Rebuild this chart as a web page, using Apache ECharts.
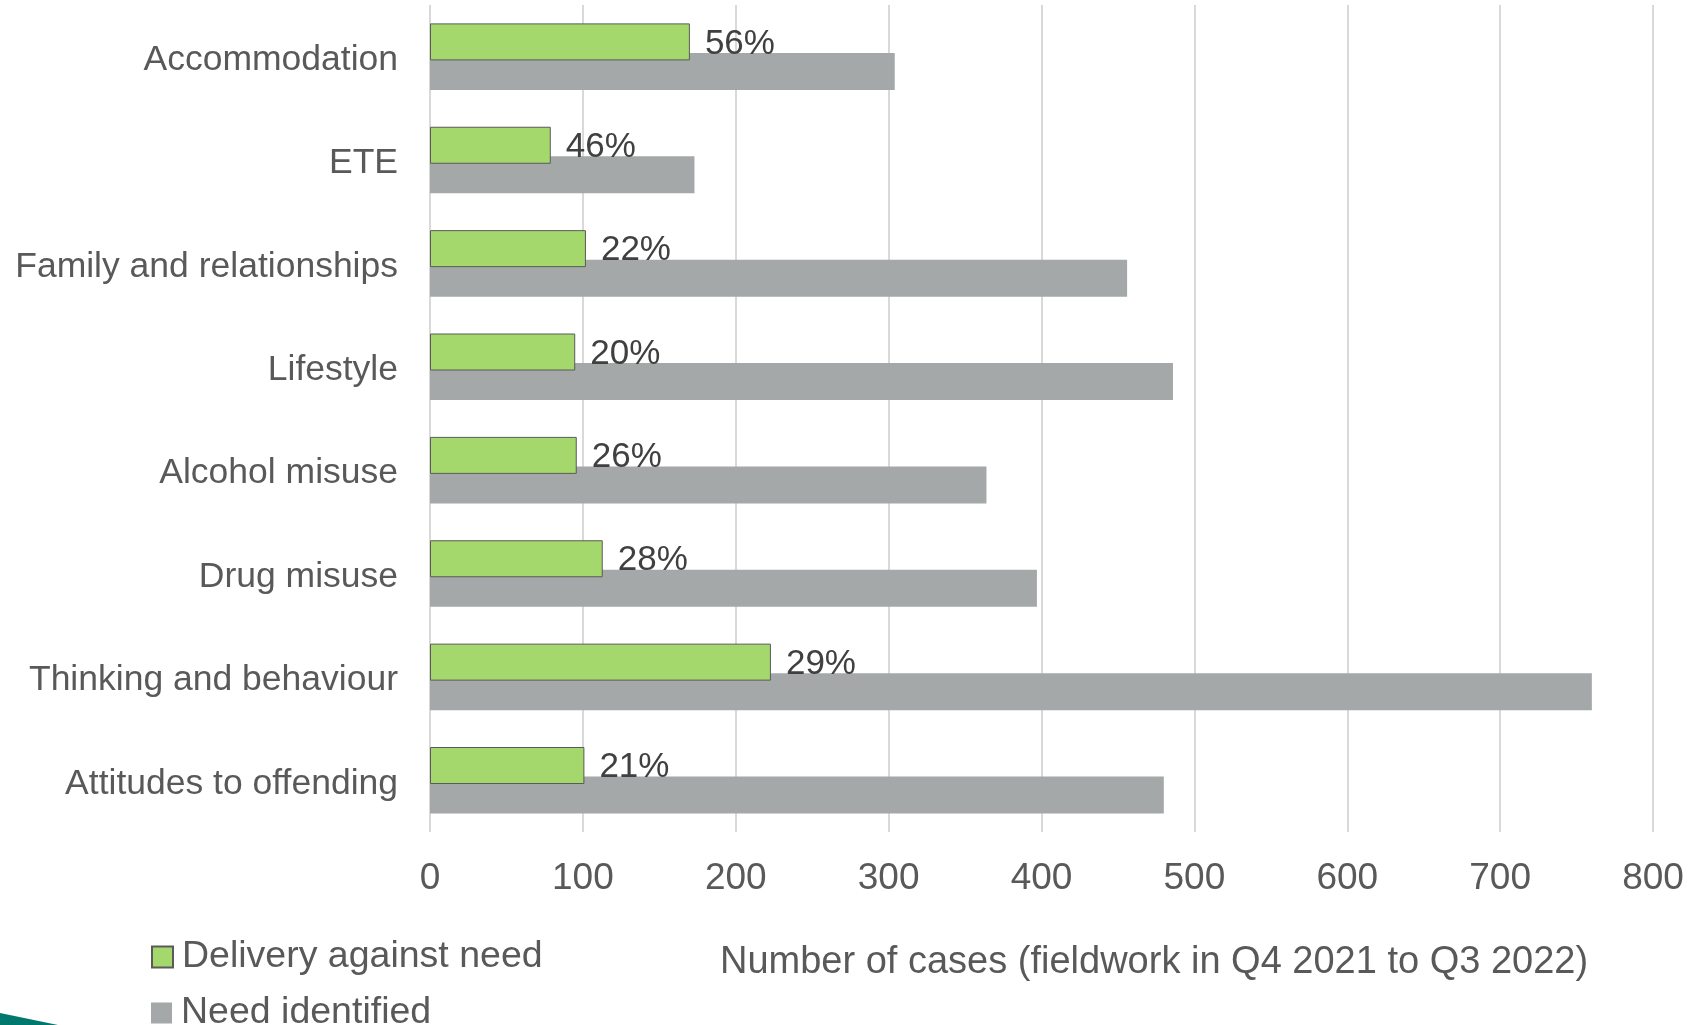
<!DOCTYPE html>
<html>
<head>
<meta charset="utf-8">
<script src="https://cdn.jsdelivr.net/npm/echarts@6/dist/echarts.min.js"></script>
<style>
html,body{margin:0;padding:0;background:#fff;}
#chart{width:1706px;height:1025px;}
</style>
</head>
<body>
<div id="chart"></div>
<script>
const categories = ["Accommodation","ETE","Family and relationships","Lifestyle","Alcohol misuse","Drug misuse","Thinking and behaviour","Attitudes to offending"];
const deliveryAgainstNeed = [170, 79, 102, 95, 96, 113, 223, 101];
const needIdentified = [304, 173, 456, 486, 364, 397, 760, 480];
const percentLabels = ["56%","46%","22%","20%","26%","28%","29%","21%"];
const axisTitle = "Number of cases (fieldwork in Q4 2021 to Q3 2022)";

const FONT = "'Liberation Sans', Arial, sans-serif";
const legendCommon = {
  left: 151, padding: 0, icon: 'rect', itemWidth: 21, itemHeight: 21, itemGap: 0,
  formatter: '{t|{name}}',
  textStyle: {rich: {t: {fontFamily: FONT, fontSize: 37.5, color: '#595959', padding: [0,0,0,4]}}}
};
const chart = echarts.init(document.getElementById('chart'));
chart.setOption({
  animation: false,
  backgroundColor: '#ffffff',
  grid: {left: 430, right: 53, top: 5, bottom: 193, containLabel: false},
  legend: [
    Object.assign({top: 938, data: ['Delivery against need']}, legendCommon),
    Object.assign({top: 994, data: ['Need identified']}, legendCommon)
  ],
  xAxis: {
    type: 'value', min: 0, max: 800, interval: 100,
    axisLine: {show: false}, axisTick: {show: false},
    splitLine: {show: true, lineStyle: {color: '#d9d9d9', width: 2}},
    axisLabel: {fontFamily: FONT, fontSize: 37, color: '#595959', margin: 28}
  },
  yAxis: {
    type: 'category', data: categories, inverse: true,
    axisLine: {show: false}, axisTick: {show: false},
    axisLabel: {
      margin: 32,
      formatter: v => '{c|' + v + '}',
      rich: {c: {fontFamily: FONT, fontSize: 35.5, color: '#595959', padding: [7,0,0,0]}}
    }
  },
  series: [
    {
      name: 'Delivery against need', type: 'bar', data: deliveryAgainstNeed,
      barWidth: 37, barGap: '-20%', z: 3,
      itemStyle: {color: '#a4d86c', borderColor: '#5a5a5a', borderWidth: 1},
      label: {show: true, position: 'right', distance: 15, offset: [0, 2], fontFamily: FONT, fontSize: 35, color: '#404040',
        formatter: p => percentLabels[p.dataIndex]}
    },
    {
      name: 'Need identified', type: 'bar', data: needIdentified,
      barWidth: 37, barGap: '-20%', z: 2,
      itemStyle: {color: '#a5a8a8'}
    }
  ],
  graphic: [
    {type: 'text', left: 720, top: 944, style: {text: axisTitle, font: "38px " + FONT, fill: '#595959'}},
    {type: 'polygon', shape: {points: [[0,1013],[58,1025],[0,1025]]}, style: {fill: '#00786e'}}
  ]
});
</script>
</body>
</html>
